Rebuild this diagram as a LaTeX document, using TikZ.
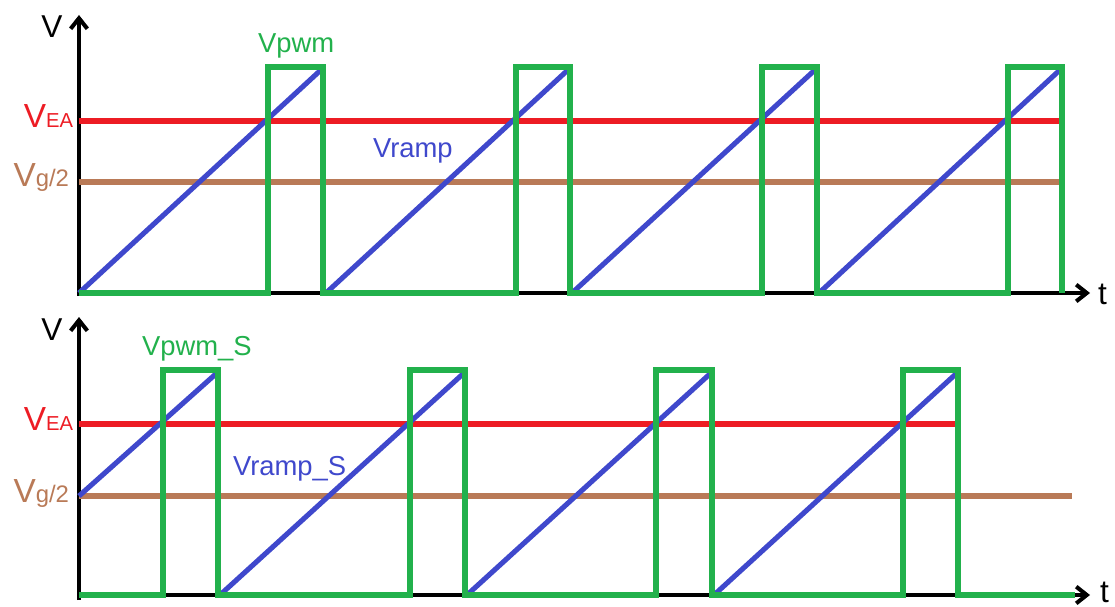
\documentclass[tikz,border=0pt]{standalone}
\usepackage{fontspec}
\setmainfont{Liberation Sans}
\usetikzlibrary{arrows.meta}

\definecolor{eared}{RGB}{237,28,36}
\definecolor{pwmgreen}{RGB}{34,177,76}
\definecolor{rampblue}{RGB}{63,72,204}
\definecolor{vgbrown}{RGB}{185,122,87}

\newcommand{\bigtxt}{\fontsize{18}{18}\selectfont}
\newcommand{\midtxt}{\fontsize{15.6}{16}\selectfont}

\begin{document}
\begin{tikzpicture}[x=0.02cm,y=0.02cm,
    axisline/.style={line width=2.3pt,-{Straight Barb[length=6pt,width=9.5pt,line join=miter]}},
    wave/.style={line width=2.9pt},
    lbl/.style={inner sep=0pt,outer sep=0pt}]

% === Frame of the image ===
\useasboundingbox (0,0) rectangle (1115,606);

% === TOP PANEL: plain ramp ===
\begin{scope}[shift={(79,313)}]
    % levels
    \pgfmathsetmacro{\VEA}{172}
    \pgfmathsetmacro{\Vhalf}{111}
    \pgfmathsetmacro{\Vtop}{226}

    % Axes
    \draw[axisline] (0,0) -- (1011,0);
    \draw[axisline] (0,-3) -- (0,278);
    \node[lbl,anchor=base] (vaxa) at (-27,255) {\bigtxt V};
    \node[lbl,anchor=base west] (taxa) at (1019,-11) {\bigtxt t};

    % Reference levels
    \draw[wave,vgbrown] (0,\Vhalf) -- (983,\Vhalf);
    \draw[wave,eared] (0,\VEA) -- (983,\VEA);
    \node[lbl,anchor=base east,text=eared] (eaa) at (-6,165)
        {\fontsize{19}{19}\selectfont V\fontsize{11.5}{12}\selectfont EA};
    \node[lbl,anchor=base east,text=vgbrown] (vga) at (-10,106)
        {\fontsize{19}{19}\selectfont V\fontsize{13.6}{14}\selectfont g/2};

    % Ramp
    \draw[wave,rampblue] (0,0) -- (244,225);
    \draw[wave,rampblue] (247,0) -- (491,225);
    \draw[wave,rampblue] (493,0) -- (738,225);
    \draw[wave,rampblue] (740,0) -- (983,225);
    \node[lbl,anchor=base west,text=rampblue] (rampa) at (294,135) {\midtxt Vramp};

    % PWM
    \draw[wave,pwmgreen] (0,0) -- (189,0) -- (189,\Vtop) -- (244,\Vtop) -- (244,0)
        -- (437,0) -- (437,\Vtop) -- (491,\Vtop) -- (491,0)
        -- (683,0) -- (683,\Vtop) -- (738,\Vtop) -- (738,0)
        -- (929,0) -- (929,\Vtop) -- (983,\Vtop) -- (983,0);
    \node[lbl,anchor=base west,text=pwmgreen] (pwma) at (179,240) {\midtxt Vpwm};
\end{scope}

% === BOTTOM PANEL: shifted ramp ===
\begin{scope}[shift={(79,11)}]
    % levels
    \pgfmathsetmacro{\VEA}{171}
    \pgfmathsetmacro{\Vhalf}{99}
    \pgfmathsetmacro{\Vtop}{225}

    % Axes
    \draw[axisline] (0,0) -- (1011,0);
    \draw[axisline] (0,-5) -- (0,278);
    \node[lbl,anchor=base] (vaxb) at (-27,255) {\bigtxt V};
    \node[lbl,anchor=base west] (taxb) at (1021,-7) {\bigtxt t};

    % Reference levels
    \draw[wave,vgbrown] (0,\Vhalf) -- (993,\Vhalf);
    \draw[wave,eared] (0,\VEA) -- (879,\VEA);
    \node[lbl,anchor=base east,text=eared] (eab) at (-6,165)
        {\fontsize{19}{19}\selectfont V\fontsize{11.5}{12}\selectfont EA};
    \node[lbl,anchor=base east,text=vgbrown] (vgb) at (-10,93)
        {\fontsize{19}{19}\selectfont V\fontsize{13.6}{14}\selectfont g/2};

    % Ramp, starting from Vg/2
    \draw[wave,rampblue] (0,\Vhalf) -- (139,223);
    \draw[wave,rampblue] (141,0) -- (386,223);
    \draw[wave,rampblue] (388,0) -- (633,223);
    \draw[wave,rampblue] (635,0) -- (879,223);
    \node[lbl,anchor=base west,text=rampblue] (rampb) at (154,120) {\midtxt Vramp\_S};

    % PWM
    \draw[wave,pwmgreen] (0,0) -- (84,0) -- (84,\Vtop) -- (139,\Vtop) -- (139,0)
        -- (331,0) -- (331,\Vtop) -- (386,\Vtop) -- (386,0)
        -- (577,0) -- (577,\Vtop) -- (633,\Vtop) -- (633,0)
        -- (824,0) -- (824,\Vtop) -- (879,\Vtop) -- (879,0) -- (996,0);
    \node[lbl,anchor=base west,text=pwmgreen] (pwmb) at (63,240) {\midtxt Vpwm\_S};
\end{scope}

\end{tikzpicture}
\end{document}
